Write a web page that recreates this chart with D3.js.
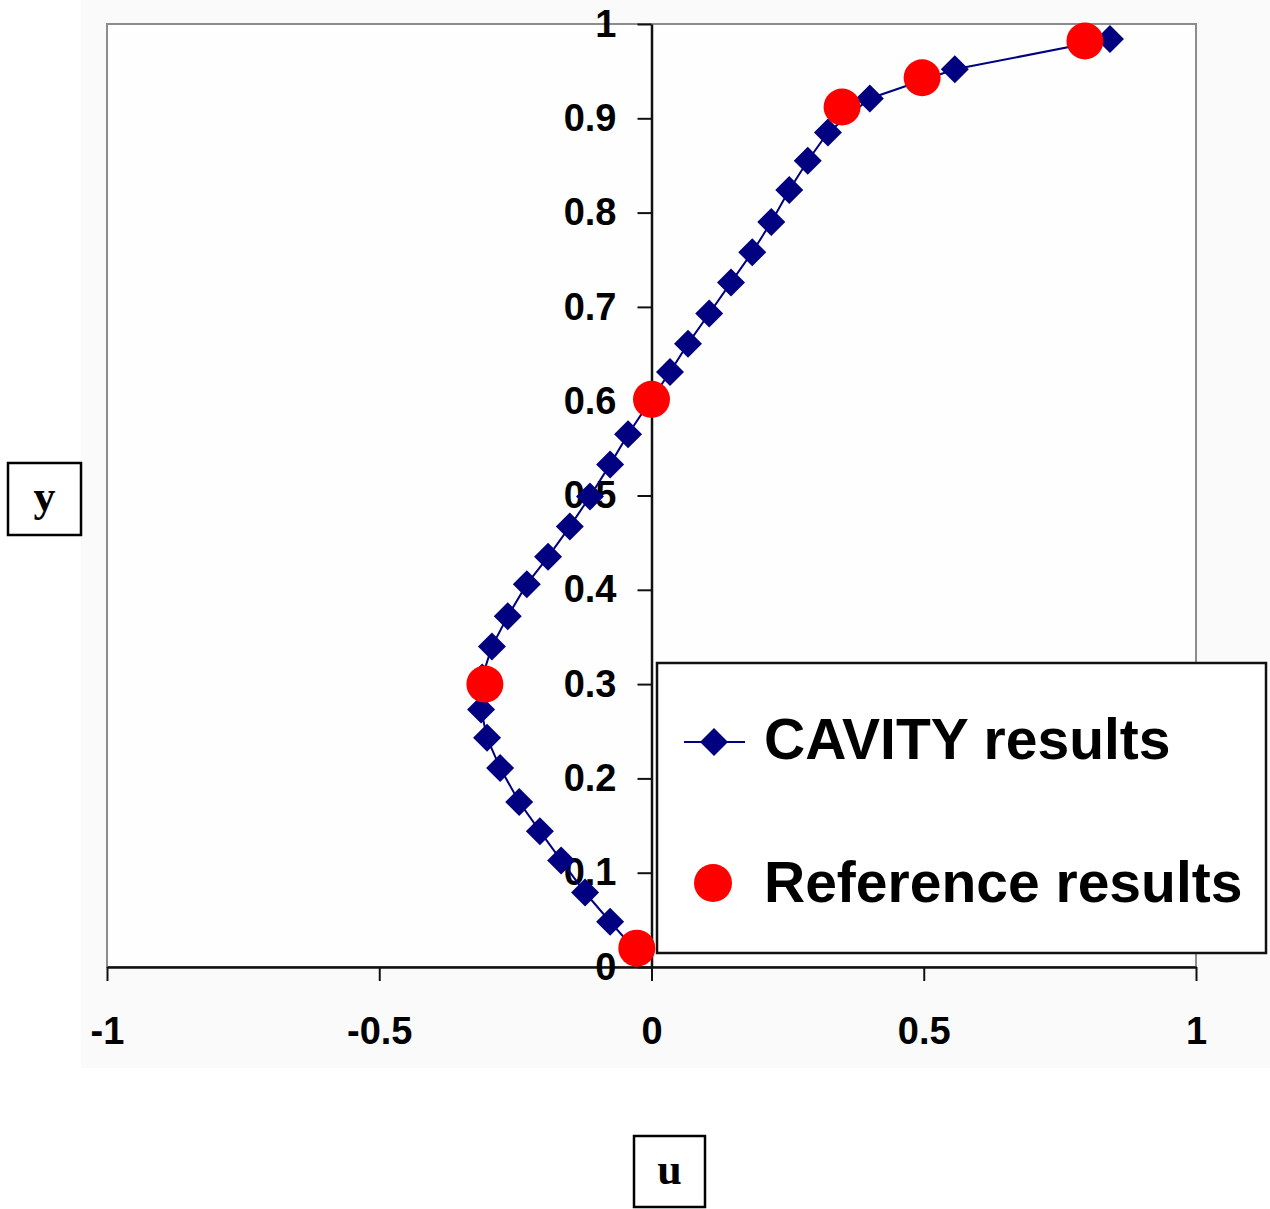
<!DOCTYPE html>
<html>
<head>
<meta charset="utf-8">
<script src="https://cdn.jsdelivr.net/npm/d3@7"></script>
<style>
  html, body { margin: 0; padding: 0; background: #ffffff; }
  svg { display: block; }
  .tick text { font-family: "Liberation Sans", Arial, sans-serif; font-weight: bold; }
</style>
</head>
<body>
<svg id="chart" width="1270" height="1209"></svg>
<script>
// ---- Data ----
const cavityU = [-0.027, -0.076, -0.122, -0.166, -0.205, -0.243, -0.278, -0.302, -0.313, -0.311,
                 -0.293, -0.264, -0.229, -0.190, -0.150, -0.113, -0.076, -0.043, -0.005, 0.034,
                 0.067, 0.106, 0.146, 0.185, 0.220, 0.253, 0.287, 0.324, 0.401, 0.557, 0.842];
const cavityY = [0.016, 0.048, 0.079, 0.113, 0.144, 0.175, 0.211, 0.243, 0.273, 0.307,
                 0.340, 0.372, 0.406, 0.435, 0.467, 0.499, 0.533, 0.565, 0.598, 0.631,
                 0.661, 0.693, 0.726, 0.758, 0.790, 0.824, 0.855, 0.885, 0.921, 0.952, 0.984];
const refU = [-0.027, -0.306, 0.0, 0.35, 0.497, 0.796];
const refY = [0.020, 0.300, 0.602, 0.912, 0.943, 0.982];

const xTickValues = [-1, -0.5, 0, 0.5, 1];
const xTickLabels = ["-1", "-0.5", "0", "0.5", "1"];
const yTickValues = [0, 0.1, 0.2, 0.3, 0.4, 0.5, 0.6, 0.7, 0.8, 0.9, 1];
const yTickLabels = ["0", "0.1", "0.2", "0.3", "0.4", "0.5", "0.6", "0.7", "0.8", "0.9", "1"];

const seriesNames = ["CAVITY results", "Reference results"];
const xLabel = "u";
const yLabel = "y";

// ---- Layout ----
const svg = d3.select("#chart");
const plot = { left: 107, right: 1196, top: 24, bottom: 967 };

const x = d3.scaleLinear().domain([-1, 1]).range([plot.left, plot.right]);
const y = d3.scaleLinear().domain([0, 1]).range([plot.bottom, plot.top]);

const navy = "#000080";
const red = "#ff0000";

// chart area background
svg.append("rect").attr("x", 81).attr("y", 0).attr("width", 1189).attr("height", 1068)
  .attr("fill", "#fafafa");
// plot area
svg.append("rect")
  .attr("x", plot.left).attr("y", plot.top)
  .attr("width", plot.right - plot.left).attr("height", plot.bottom - plot.top)
  .attr("fill", "#fefefe").attr("stroke", "#8c8c8c").attr("stroke-width", 2);

// X axis (at y = 0)
const xAxis = d3.axisBottom(x)
  .tickValues(xTickValues)
  .tickFormat((d, i) => xTickLabels[i])
  .tickSize(14).tickSizeOuter(0).tickPadding(36);
const gx = svg.append("g").attr("transform", `translate(0,${y(0)})`).call(xAxis);
gx.select(".domain").attr("stroke", "#111").attr("stroke-width", 2.5);
gx.selectAll(".tick line").attr("stroke", "#111").attr("stroke-width", 2);
gx.selectAll(".tick text").attr("font-size", 38).attr("fill", "#000");

// Y axis (at u = 0)
const yAxis = d3.axisLeft(y)
  .tickValues(yTickValues)
  .tickFormat((d, i) => yTickLabels[i])
  .tickSize(14).tickSizeOuter(0).tickPadding(21);
const gy = svg.append("g").attr("transform", `translate(${x(0)},0)`).call(yAxis);
gy.select(".domain").attr("stroke", "#111").attr("stroke-width", 2.5);
gy.selectAll(".tick line").attr("stroke", "#111").attr("stroke-width", 2);
gy.selectAll(".tick text").attr("font-size", 38).attr("fill", "#000");

// CAVITY line + diamonds
const cavity = cavityU.map((u, i) => ({ u, y: cavityY[i] }));
const ref = refU.map((u, i) => ({ u, y: refY[i] }));

svg.append("path")
  .datum(cavity)
  .attr("fill", "none").attr("stroke", navy).attr("stroke-width", 2)
  .attr("d", d3.line().x(d => x(d.u)).y(d => y(d.y)));

const diamond = d3.symbol().type(d3.symbolSquare).size(392);
svg.append("g").selectAll("path").data(cavity).join("path")
  .attr("d", diamond)
  .attr("transform", d => `translate(${x(d.u)},${y(d.y)}) rotate(45)`)
  .attr("fill", navy);

// Reference circles
svg.append("g").selectAll("circle").data(ref).join("circle")
  .attr("cx", d => x(d.u)).attr("cy", d => y(d.y)).attr("r", 18.5)
  .attr("fill", red);

// Legend
const lg = svg.append("g");
lg.append("rect").attr("x", 657).attr("y", 663).attr("width", 609).attr("height", 290)
  .attr("fill", "#ffffff").attr("stroke", "#111").attr("stroke-width", 2.5);
lg.append("line").attr("x1", 684).attr("x2", 745).attr("y1", 742).attr("y2", 742)
  .attr("stroke", navy).attr("stroke-width", 2);
lg.append("path").attr("d", diamond).attr("transform", "translate(714,742) rotate(45)").attr("fill", navy);
lg.append("circle").attr("cx", 713).attr("cy", 883).attr("r", 19).attr("fill", red);
lg.append("text").attr("x", 764).attr("y", 759).text(seriesNames[0])
  .attr("font-family", "'Liberation Sans', Arial, sans-serif").attr("font-weight", "bold")
  .attr("font-size", 57).attr("fill", "#000");
lg.append("text").attr("x", 764).attr("y", 902).text(seriesNames[1])
  .attr("font-family", "'Liberation Sans', Arial, sans-serif").attr("font-weight", "bold")
  .attr("font-size", 57).attr("fill", "#000");

// Axis title boxes
function titleBox(bx, by, w, h, label) {
  const g = svg.append("g");
  g.append("rect").attr("x", bx).attr("y", by).attr("width", w).attr("height", h)
    .attr("fill", "#ffffff").attr("stroke", "#000").attr("stroke-width", 2.5);
  g.append("text").attr("x", bx + w / 2).attr("y", by + h / 2 + 12)
    .attr("text-anchor", "middle")
    .attr("font-family", "'Liberation Serif', 'Times New Roman', serif")
    .attr("font-weight", "bold").attr("font-size", 44).attr("fill", "#000")
    .text(label);
}
titleBox(8, 463, 73, 72, yLabel);
titleBox(634, 1136, 71, 71, xLabel);
</script>
</body>
</html>
